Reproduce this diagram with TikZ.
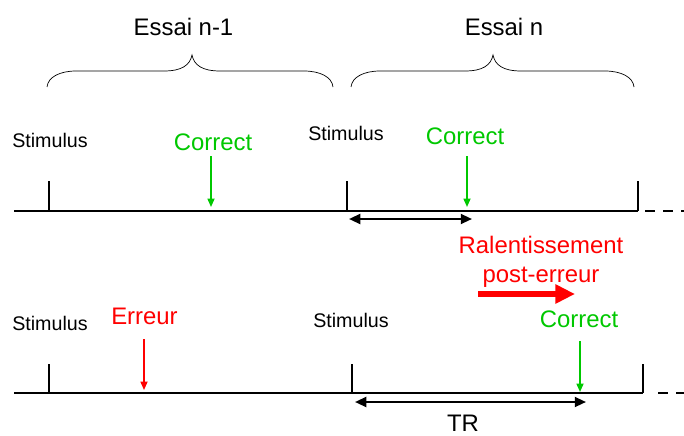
\documentclass[tikz,border=0pt]{standalone}
\usepackage{fontspec}
\setmainfont{Liberation Sans}
\usepackage{xcolor}
\usepackage{tikz}
\usetikzlibrary{arrows.meta}

\definecolor{okgreen}{RGB}{0,200,0}
\definecolor{errred}{RGB}{255,0,0}

\begin{document}
\begin{tikzpicture}[
    timeline/.style={black, line width=2.1pt},
    tick/.style={black, line width=2pt},
    stimlabel/.style={inner sep=0pt, font=\fontsize{14}{16}\selectfont},
    biglabel/.style={inner sep=0pt, font=\fontsize{17}{19}\selectfont},
    greenarrow/.style={okgreen, line width=1.1pt, -{Triangle[length=6pt,width=5pt]}},
    redarrow/.style={errred, line width=1.1pt, -{Triangle[length=6pt,width=5pt]}},
    rtarrow/.style={black, line width=1.6pt, {Triangle[length=8pt,width=7pt]}-{Triangle[length=8pt,width=7pt]}},
    slowarrow/.style={errred, line width=3.6pt, -{Triangle[length=14pt,width=13pt]}},
    bracket/.style={black, line width=0.5pt}
]

\useasboundingbox (0,0) rectangle (17.1,10.875);

% braces
\draw[bracket] (1.175,8.7) .. controls (1.2,8.95) and (1.5,9.1) .. (1.9,9.1) -- (4.1,9.1)
  .. controls (4.55,9.1) and (4.75,9.25) .. (4.8,9.5)
  .. controls (4.85,9.25) and (5.05,9.1) .. (5.5,9.1) -- (7.6,9.1)
  .. controls (8.0,9.1) and (8.3,8.95) .. (8.325,8.7);
\draw[bracket] (8.775,8.7) .. controls (8.8,8.95) and (9.1,9.1) .. (9.5,9.1) -- (11.625,9.1)
  .. controls (12.075,9.1) and (12.275,9.25) .. (12.325,9.5)
  .. controls (12.375,9.25) and (12.575,9.1) .. (13.025,9.1) -- (15.125,9.1)
  .. controls (15.525,9.1) and (15.825,8.95) .. (15.85,8.7);

\node[biglabel] (essaiA) at (4.5875,10.2) {Essai n-1};
\node[biglabel] (essaiB) at (12.6,10.2) {Essai n};

%%%%% essai correct (haut)
\coordinate (topL) at (0.35,5.6);
\coordinate (topR) at (15.95,5.6);
\coordinate (topS1) at (1.225,5.6);
\coordinate (topS2) at (8.675,5.6);
\coordinate (topS3) at (15.95,5.6);

\draw[timeline] (topL) -- (topR);
\draw[timeline, dash pattern=on 0.25cm off 0.2cm] (16.125,5.6) -- (17.1,5.6);

\foreach \s in {topS1,topS2,topS3}
\draw[tick] (\s) -- ++(0,0.75);

\node[stimlabel] (stimA) at (1.25,7.375) {Stimulus};
\node[stimlabel] (stimB) at (8.65,7.55) {Stimulus};

\node[biglabel, text=okgreen] (corrA) at (5.325,7.325) {Correct};
\node[biglabel, text=okgreen] (corrB) at (11.625,7.475) {Correct};

\coordinate (hitA) at (5.275,5.7);
\coordinate (hitB) at (11.675,5.7);
\draw[greenarrow] (hitA |- 0,6.975) -- (hitA);
\draw[greenarrow] (hitB |- 0,6.975) -- (hitB);

\coordinate (rtA1) at (8.725,5.4);
\coordinate (rtA2) at (11.8,5.4);
\draw[rtarrow] (rtA1) -- (rtA2);

%%%%% essai apres erreur (bas)
\coordinate (botL) at (0.35,1.05);
\coordinate (botR) at (16.075,1.05);
\coordinate (botS1) at (1.225,1.05);
\coordinate (botS2) at (8.8,1.05);
\coordinate (botS3) at (16.075,1.05);

\draw[timeline] (botL) -- (botR);
\draw[timeline, dash pattern=on 0.25cm off 0.2cm] (16.45,1.05) -- (17.1,1.05);

\foreach \s in {botS1,botS2,botS3}
\draw[tick] (\s) -- ++(0,0.725);

\node[stimlabel] (stimC) at (1.25,2.8) {Stimulus};
\node[stimlabel] (stimD) at (8.775,2.875) {Stimulus};

\node[biglabel, text=errred] (err) at (3.6125,2.975) {Erreur};
\node[biglabel, text=okgreen] (corrC) at (14.475,2.9) {Correct};

\coordinate (hitE) at (3.6,1.125);
\coordinate (hitC) at (14.5,1.075);
\draw[redarrow] (hitE |- 0,2.4) -- (hitE);
\draw[greenarrow] (hitC |- 0,2.35) -- (hitC);

\coordinate (rtB1) at (8.875,0.825);
\coordinate (rtB2) at (14.65,0.825);
\draw[rtarrow] (rtB1) -- (rtB2);
\node[biglabel] (tr) at (11.575,0.29) {TR};

% ralentissement
\node[biglabel, text=errred, align=center] (slow) at (13.525,4.33) {Ralentissement\\[1pt]post-erreur};
\coordinate (slowA) at (11.95,3.525);
\coordinate (slowB) at (14.375,3.525);
\draw[slowarrow] (slowA) -- (slowB);

\end{tikzpicture}
\end{document}
